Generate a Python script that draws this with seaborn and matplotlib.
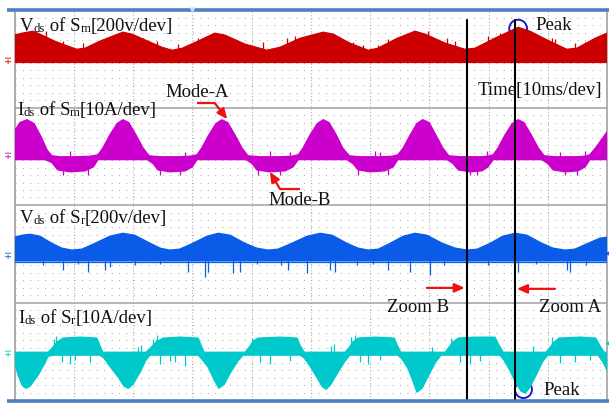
import matplotlib
matplotlib.use("Agg")
import matplotlib.pyplot as plt
from matplotlib.patches import Ellipse
from matplotlib.ticker import MultipleLocator
import numpy as np
import pandas as pd
import seaborn as sns

# ---------------- scope settings ----------------
# 10 ms/div over 10 divisions, 8 vertical divisions
T_END = 100.0
Y_DIVS = 8
# ground level (div) and scale (units/div) of each channel
VDS_SM_GND, VDS_SM_SCALE = 6.95, 200.0   # V
IDS_SM_GND, IDS_SM_SCALE = 5.00, 10.0    # A
VDS_SR_GND, VDS_SR_SCALE = 2.95, 200.0   # V
IDS_SR_GND, IDS_SR_SCALE = 0.94, 10.0    # A

# ---------------- Vds of Sm (envelope, V) ----------------
vds_sm_t = [0, 1.3, 3.1, 4.3, 6.8, 9.0, 10.5, 11.9, 14.4, 17.0, 18.3, 19.8, 22.9, 24.9,
            26.6, 28.3, 31.3, 33.8, 35.5, 38.9, 42.6, 44.8, 48.2, 52.1, 53.8, 56.6,
            59.7, 61.3, 64.6, 67.6, 69.3, 72.7, 76.0, 77.7, 81.4, 85.0, 87.0, 90.0,
            93.2, 94.9, 98.0, 100]
vds_sm_hi = [107, 115, 123, 111, 82, 62, 49, 53, 82, 107, 119, 111, 78, 57,
             45, 53, 86, 115, 107, 70, 45, 57, 94, 119, 111, 74,
             45, 53, 94, 123, 111, 74, 49, 53, 98, 139, 123, 86,
             49, 53, 94, 115]
vds_sm_lo_t = [0, 100]
vds_sm_lo = [-5, -5]
vds_sm_spk_t = [5.4, 8.2, 11.6, 21.7, 24.1, 27.6, 31.0, 41.9, 46.0, 47.3, 57.1, 58.8,
                61.3, 63.0, 69.8, 73.0, 74.3, 79.9, 80.6, 81.9, 90.7, 91.2, 94.6,
                96.3, 97.6, 98.5]
vds_sm_spk = [123, 83, 74, 94, 83, 70, 94, 79, 94, 103, 79, 66,
              66, 90, 124, 94, 83, 103, 94, 115, 94, 89, 74,
              79, 75, 100]

# ---------------- Ids of Sm (envelope, A) ----------------
ids_sm_t = [0, 0.9, 2.1, 3.3, 4.5, 5.5, 6.3, 7.7, 10.2, 12.7,
            14.1, 14.9, 16.1, 17.3, 18.3, 19.3, 20.5, 21.7, 22.7, 24.6, 27.9, 29.6,
            30.8, 31.6, 32.8, 34.0, 35.0, 36.0, 37.2, 38.4, 39.4, 41.4, 44.8, 46.8,
            47.9, 48.7, 49.9, 51.1, 52.1, 53.1, 54.3, 55.4, 56.5, 58.3, 61.7, 63.7,
            64.7, 65.6, 66.8, 67.9, 68.9, 70.0, 71.1, 72.3, 73.3, 75.2, 78.6, 79.9,
            80.8, 81.6, 82.8, 84.0, 85.0, 86.0, 87.2, 88.4, 89.4, 91.2, 94.7, 96.3,
            97.1, 98.3, 99.3, 100]
ids_sm_hi = [5.2, 6.9, 7.5, 6.7, 4.0, 1.3, 0.1, -0.1, -0.1, 0.0,
             0.3, 1.7, 4.4, 6.7, 7.5, 6.9, 4.4, 1.7, 0.1, -0.1, -0.1, 0.0,
             0.3, 1.7, 4.4, 6.7, 7.5, 6.9, 4.4, 1.7, 0.1, -0.1, -0.1, 0.0,
             0.3, 1.7, 4.4, 6.7, 7.5, 6.9, 4.4, 1.7, 0.1, -0.1, -0.1, 0.0,
             0.3, 1.7, 4.4, 6.7, 7.5, 6.9, 4.4, 1.7, 0.1, -0.1, -0.1, 0.0,
             0.3, 1.7, 4.4, 6.7, 7.5, 6.9, 4.4, 1.7, 0.1, -0.1, -0.1, 0.0,
             0.3, 2.1, 3.8, 5.0]
ids_sm_lo_t = [0, 5.2, 6.3, 7.3, 9.4, 11.9, 13.3, 14.1,
               22.4, 23.4, 24.2, 26.2, 28.8, 30.0, 30.8,
               39.1, 40.1, 40.9, 43.1, 45.7, 47.0, 47.9,
               56.1, 57.1, 58.0, 60.0, 62.5, 63.9, 64.7,
               73.0, 74.0, 74.9, 76.9, 78.9, 79.9, 80.8,
               89.0, 90.0, 90.9, 92.9, 95.1, 96.3, 97.1, 100]
ids_sm_lo = [-0.7, -0.7, -1.3, -2.8, -3.2, -3.0, -2.2, -0.7,
             -0.7, -1.5, -2.8, -3.2, -3.0, -2.2, -0.7,
             -0.7, -1.5, -2.8, -3.2, -3.0, -2.2, -0.7,
             -0.7, -1.5, -2.8, -3.2, -3.0, -2.2, -0.7,
             -0.7, -1.5, -2.8, -3.2, -3.0, -2.2, -0.7,
             -0.7, -1.5, -2.8, -3.2, -3.0, -2.2, -0.7, -0.7]
ids_sm_spk_t = [8.2, 12.4, 24.6, 27.9, 41.1, 44.8, 58.0, 63.0, 76.9, 78.1, 92.9, 94.9,
                9.4, 28.8, 43.1, 46.5, 60.8, 61.7, 79.7, 92.1, 96.3]
ids_sm_spk = [-3.9, -3.8, -3.9, -3.8, -3.9, -3.8, -3.9, -3.8, -3.9, -3.8, -3.9, -3.8,
              1.1, 0.9, 1.1, 0.9, 1.1, 0.9, 1.1, 0.9, 1.1]

# ---------------- Vds of Sr (envelope, V) ----------------
vds_sr_t = [0, 1.3, 2.6, 4.3, 6.3, 8.0, 9.7, 11.4, 13.6, 16.1, 18.3, 20.3, 22.9, 24.6,
            26.2, 27.9, 30.1, 32.5, 34.4, 36.4, 38.9, 40.9, 42.8, 44.5, 46.8, 49.4,
            51.6, 53.6, 56.1, 58.0, 59.7, 61.4, 63.4, 65.6, 67.6, 69.6, 72.2, 74.4,
            76.4, 78.1, 80.3, 82.4, 84.5, 86.5, 89.0, 90.9, 92.9, 94.6, 96.8, 98.8, 100]
vds_sr_hi = [78, 86, 90, 82, 53, 33, 25, 29, 53, 82, 94, 86, 53, 33,
             25, 29, 53, 82, 94, 86, 53, 33, 25, 29, 53, 82,
             94, 86, 53, 33, 25, 29, 53, 82, 94, 86, 53, 33,
             25, 29, 53, 82, 94, 86, 53, 33, 25, 29, 53, 74, 78]
vds_sr_lo_t = [0, 100]
vds_sr_lo = [-22, -22]
vds_sr_spk_t = [4.8, 8.2, 10.8, 12.4, 15.3, 16.1, 20.3, 24.5, 29.3, 32.2, 32.7, 36.9,
                38.1, 41.0, 45.0, 46.2, 49.4, 53.2, 54.1, 57.8, 60.5, 63.0, 66.7,
                70.1, 72.5, 76.4, 79.9, 85.0, 88.0, 93.3, 93.8, 96.5]
vds_sr_spk = [-37, -57, -32, -66, -57, -45, -37, -30, -66, -86, -66, -70,
              -66, -32, -35, -57, -70, -57, -66, -37, -32, -57, -66,
              -78, -35, -45, -37, -66, -30, -57, -66, -35]

# ---------------- Ids of Sr (envelope, A) ----------------
ids_sr_t = [0, 5.7, 6.3, 7.2, 8.2, 11.1, 13.9, 14.4, 14.9,
            22.2, 22.9, 23.9, 25.1, 27.9, 31.0, 31.5, 32.0,
            38.9, 39.6, 40.3, 41.1, 44.8, 47.7, 48.2, 48.9,
            55.8, 56.5, 57.1, 58.0, 60.8, 64.1, 64.6, 65.2,
            72.7, 73.3, 74.0, 74.9, 77.7, 81.1, 81.8, 82.5,
            89.7, 90.4, 91.1, 91.9, 95.4, 98.1, 98.8, 99.5, 100]
ids_sr_hi = [0.4, 0.4, 1.2, 2.5, 3.3, 3.5, 3.3, 1.8, 0.4,
             0.4, 1.2, 2.5, 3.3, 3.5, 3.3, 1.8, 0.4,
             0.4, 1.4, 2.7, 3.3, 3.5, 3.3, 1.8, 0.4,
             0.4, 1.4, 2.5, 3.3, 3.5, 3.3, 1.8, 0.4,
             0.4, 1.4, 2.5, 3.3, 3.5, 3.5, 1.8, 0.4,
             0.4, 1.4, 2.5, 3.3, 3.5, 3.3, 1.8, 0.4, 0.4]
ids_sr_lo_t = [0, 0.6, 1.3, 1.9, 2.6, 4.0, 5.0, 5.7, 6.8,
               14.4, 15.1, 16.1, 17.5, 18.5, 19.2, 20.0, 21.2, 22.2, 22.9,
               31.0, 31.6, 32.7, 33.7, 34.5, 35.4, 36.5, 37.7, 38.6,
               48.2, 48.9, 49.9, 51.1, 51.9, 52.6, 53.4, 54.6, 55.8, 56.6,
               64.7, 65.4, 66.4, 67.3, 67.9, 68.8, 70.0, 71.1, 72.0,
               81.9, 82.6, 83.6, 84.6, 85.5, 86.2, 87.0, 88.2, 89.2, 90.0,
               98.5, 99.3, 100]
ids_sr_lo = [-1.6, -4.3, -6.4, -7.0, -6.6, -4.3, -2.1, -0.4, -0.2,
             -0.2, -0.8, -2.5, -4.7, -6.6, -7.0, -6.2, -3.7, -1.2, -0.2,
             -0.2, -1.0, -2.7, -5.3, -7.0, -6.2, -3.7, -1.4, -0.2,
             -0.2, -0.8, -2.5, -4.9, -6.6, -7.2, -6.2, -3.7, -1.4, -0.2,
             -0.2, -1.0, -2.9, -5.7, -7.8, -7.0, -4.1, -1.6, -0.2,
             -0.2, -1.2, -3.3, -5.9, -7.6, -8.0, -6.8, -3.9, -1.4, -0.2,
             -0.2, -1.6, -3.3]
ids_sr_spk_t = [8.0, 9.4, 10.2, 12.7, 24.6, 26.2, 27.1, 28.8, 41.4, 43.1, 46.5, 58.3,
                59.7, 61.7, 75.2, 76.9, 78.6, 92.1, 94.6, 97.1,
                6.6, 7.0, 23.4, 24.0, 40.0, 56.8, 57.4, 73.7, 90.7,
                20.8, 21.4, 53.4, 54.0, 70.5, 87.5]
ids_sr_spk = [-1.6, -2.1, -1.2, -1.6, -2.1, -1.4, -1.6, -2.5, -1.6, -2.1, -1.4, -1.6,
              -2.1, -1.2, -1.6, -2.1, -1.4, -1.8, -1.6, -1.2,
              3.1, 3.7, 3.1, 3.9, 3.3, 3.5, 3.9, 3.3, 3.5,
              1.4, 1.8, 1.6, 2.1, 1.4, 1.6]

# cursor positions (ms)
cursor_zoom_b = 76.4
cursor_zoom_a = 84.5

# ---------------- colours ----------------
RED = "#cc0000"
MAGENTA = "#cc00cc"
BLUE = "#0a5ce8"
CYAN = "#00c9cc"
ARROW = "#ee1111"
FRAME = "#4f7fc0"
GRID = "#a8a8a8"
INK = "#111111"

sns.set_theme(style="white")
plt.rcParams["font.family"] = ["Liberation Serif", "DejaVu Serif"]

fig = plt.figure(figsize=(6.09, 4.03), dpi=100)
ax = fig.add_axes([14.5 / 609, 3 / 403, 592.5 / 609, 390 / 403])
ax.set_xlim(0, T_END)
ax.set_ylim(0, Y_DIVS)
ax.set_xlabel("")
ax.set_ylabel("")

# graticule: dotted lattice + dotted major verticals
ax.xaxis.set_major_locator(MultipleLocator(10))
ax.xaxis.set_minor_locator(MultipleLocator(1.25))
ax.yaxis.set_major_locator(MultipleLocator(2))
ax.yaxis.set_minor_locator(MultipleLocator(2 / 13))
ax.tick_params(which="both", length=0, labelbottom=False, labelleft=False)
ax.grid(False)
ax.grid(which="minor", axis="y", color=GRID, lw=0.75, linestyle=(0, (0.9, 6.2)), zorder=0)
ax.grid(which="major", axis="x", color=GRID, lw=0.75, linestyle=(0, (0.9, 2.2)), zorder=0)
for d in (2, 4, 6):
    ax.axhline(d, color="#a0a0a0", lw=1.1, zorder=1)

for side in ("top", "bottom"):
    ax.spines[side].set_visible(False)
for side in ("left", "right"):
    ax.spines[side].set_color("#9a9a9a")
    ax.spines[side].set_linewidth(1.1)

# top and bottom frame bars
for yy in (1.0006, -0.0038):
    ax.plot([-0.0127, 1.0034], [yy, yy], transform=ax.transAxes, color=FRAME,
            lw=2.6, solid_capstyle="butt", clip_on=False, zorder=6)
ax.plot([30.0], [1.0006 * Y_DIVS], marker="v", ms=4, color="#c9d8ee", mec="none",
        clip_on=False, zorder=7)


def to_div(vals, gnd, scale):
    return gnd + np.asarray(vals, dtype=float) / scale


def draw_channel(t_hi, hi, t_lo, lo, spk_t, spk, gnd, scale, color, z):
    up = pd.DataFrame({"t": t_hi, "y": to_div(hi, gnd, scale)})
    dn = pd.DataFrame({"t": t_lo, "y": to_div(lo, gnd, scale)})
    ax.fill(np.r_[up.t, dn.t[::-1]], np.r_[up.y, dn.y[::-1]], color=color, lw=0, zorder=z)
    sns.lineplot(data=up, x="t", y="y", color=color, lw=0.9, ax=ax, zorder=z,
                 estimator=None, legend=False)
    sns.lineplot(data=dn, x="t", y="y", color=color, lw=0.9, ax=ax, zorder=z,
                 estimator=None, legend=False)
    ax.vlines(spk_t, gnd, to_div(spk, gnd, scale), color=color, lw=0.9, zorder=z)
    # ground marker on the left edge
    ax.text(-1.1, gnd, "\u2213", color=color, fontsize=7, ha="center", va="center",
            family="DejaVu Sans", clip_on=False)


def label(x, y, parts, size=13.5, small=0.68):
    """Write a run of text pieces; pieces flagged True are set smaller (subscripts)."""
    first, is_small = parts[0]
    prev = ax.text(x, y, first, fontsize=size * (small if is_small else 1), color=INK,
                   ha="left", va="baseline", zorder=8)
    for s, is_small in parts[1:]:
        prev = ax.annotate(s, xy=(1, 0), xycoords=prev, ha="left", va="bottom",
                           fontsize=size * (small if is_small else 1), color=INK,
                           zorder=8)


# marker circles sit behind the traces
ax.add_patch(Ellipse((85.0, 7.62), 3.0, 0.36, fill=False, ec="#1a1acc", lw=1.4, zorder=2))
ax.add_patch(Ellipse((85.9, 0.215), 2.87, 0.35, fill=False, ec="#1a1acc", lw=1.4, zorder=2))

draw_channel(vds_sm_t, vds_sm_hi, vds_sm_lo_t, vds_sm_lo, vds_sm_spk_t, vds_sm_spk,
             VDS_SM_GND, VDS_SM_SCALE, RED, 3)
draw_channel(ids_sm_t, ids_sm_hi, ids_sm_lo_t, ids_sm_lo, ids_sm_spk_t, ids_sm_spk,
             IDS_SM_GND, IDS_SM_SCALE, MAGENTA, 3)
draw_channel(vds_sr_t, vds_sr_hi, vds_sr_lo_t, vds_sr_lo, vds_sr_spk_t, vds_sr_spk,
             VDS_SR_GND, VDS_SR_SCALE, BLUE, 3)
draw_channel(ids_sr_t, ids_sr_hi, ids_sr_lo_t, ids_sr_lo, ids_sr_spk_t, ids_sr_spk,
             IDS_SR_GND, IDS_SR_SCALE, CYAN, 3)

# right-edge level markers
ax.plot([100.2], [3.02], marker="<", ms=3, color=BLUE, clip_on=False, zorder=7)
ax.plot([100.2], [1.17], marker="<", ms=3, color=CYAN, clip_on=False, zorder=7)

# cursors
for tc in (cursor_zoom_b, cursor_zoom_a):
    ax.plot([tc, tc], [0, 7.79], color="black", lw=1.5, zorder=5)

label(0.93, 7.57, [("V", False), ("ds", True), (" of S", False), ("m", True),
                   ("[200v/dev]", False)])
label(0.42, 5.85, [("I", False), ("ds", True), (" of S", False), ("m", True),
                   ("[10A/dev]", False)])
label(0.93, 3.63, [("V", False), ("ds", True), (" of S", False), ("r", True),
                   ("[200v/dev]", False)])
label(0.60, 1.585, [("I", False), ("ds", True), (" of S", False), ("r", True),
                    ("[10A/dev]", False)])
label(78.1, 6.26, [("Time[10ms/dev]", False)])
label(25.5, 6.22, [("Mode-A", False)])
label(42.8, 4.00, [("Mode-B", False)])
label(87.85, 7.59, [("Peak", False)])
label(89.2, 0.10, [("Peak", False)])
label(62.9, 1.81, [("Zoom B", False)])
label(88.6, 1.81, [("Zoom A", False)])

# annotation arrows
arr = dict(arrowstyle="-|>,head_length=0.5,head_width=0.22", color=ARROW, lw=1.6,
           shrinkA=0, shrinkB=0)
ax.plot([30.8, 33.8], [6.09, 6.09], color=ARROW, lw=1.6, zorder=8, solid_capstyle="butt")
ax.annotate("", xy=(35.9, 5.76), xytext=(33.8, 6.09), arrowprops=arr, zorder=8)
ax.plot([48.2, 44.8], [4.33, 4.33], color=ARROW, lw=1.6, zorder=8, solid_capstyle="butt")
ax.annotate("", xy=(43.1, 4.68), xytext=(44.8, 4.33), arrowprops=arr, zorder=8)
ax.annotate("", xy=(76.0, 2.30), xytext=(69.6, 2.30), arrowprops=arr, zorder=8)
ax.annotate("", xy=(84.8, 2.28), xytext=(91.2, 2.28), arrowprops=arr, zorder=8)

fig.savefig("out.png", dpi=100, facecolor="white")
